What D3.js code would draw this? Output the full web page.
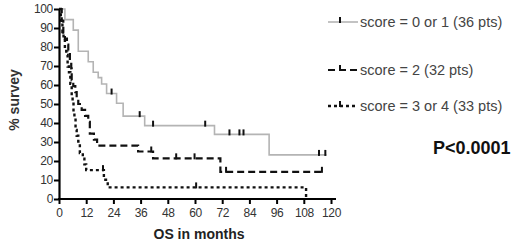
<!DOCTYPE html>
<html>
<head>
<meta charset="utf-8">
<script src="https://cdn.jsdelivr.net/npm/d3@7"></script>
<style>
  body { margin: 0; background: #fff; }
  svg { display: block; font-family: "Liberation Sans", Arial, sans-serif; }
</style>
</head>
<body>
<div id="chart"></div>
<script>
// score = 0 or 1 (36 pts)
const lowTimes = [0, 2.6, 6.3, 8.5, 12.9, 15.1, 17.3, 18.8, 21, 25.4, 28.3, 37.8, 68.6, 92.7, 118];
const lowSurv = [100, 94.4, 88.9, 77.8, 72.2, 66.7, 63.9, 60.5, 55.5, 50.4, 43.6, 38.6, 34, 23.2, 23.2];
const lowCensor = [23.2, 35.6, 41.5, 64.5, 75.2, 79.6, 81.4, 114.7, 117.5];

// score = 2 (32 pts)
const midTimes = [0, 1.2, 1.9, 2.6, 3.5, 4.1, 4.8, 5.4, 5.6, 6.3, 7.2, 7.8, 8.5, 10, 11.5, 12.9, 13.6, 15.4, 16.8, 34.9, 41.5, 71.2, 116.5];
const midSurv = [100, 93.8, 87.5, 84.4, 81.3, 78.1, 71.9, 68.8, 62.5, 59.4, 56.3, 53.1, 50, 46.9, 43.8, 40.6, 34.4, 31.3, 28.1, 25, 21.4, 14.3, 14.3];
const midCensor = [40.7, 51.7, 59.8, 73.7, 116];

// score = 3 or 4 (33 pts)
const highTimes = [0, 0.8, 1.5, 2, 2.6, 3.2, 3.8, 4.4, 5, 5.6, 6, 6.4, 6.8, 7.3, 7.8, 8.5, 9.2, 10.5, 11.2, 12, 19.8, 21.5, 109, 109];
const highSurv = [100, 93.9, 87.9, 84.8, 78.8, 75.8, 69.7, 66.7, 60.6, 54.5, 51.5, 45.5, 42.4, 36.4, 33.3, 30.3, 24.2, 21.2, 18.2, 15.2, 10.1, 6.1, 0, 0];
const highCensor = [19.4, 60.5];

const xTicks = [0, 12, 24, 36, 48, 60, 72, 84, 96, 108, 120];
const yTicks = [0, 10, 20, 30, 40, 50, 60, 70, 80, 90, 100];
const legendLabels = ["score = 0 or 1 (36 pts)", "score = 2 (32 pts)", "score = 3 or 4 (33 pts)"];

const width = 520, height = 247;
const svg = d3.select("#chart").append("svg")
    .attr("width", width)
    .attr("height", height);

const xScale = d3.scaleLinear().domain([0, 120]).range([59, 331]);
const yScale = d3.scaleLinear().domain([0, 100]).range([199, 9]);

// survival value at time t (step function)
function survAt(times, surv, t) {
    let v = surv[0];
    for (let i = 0; i < times.length; i++) {
        if (times[i] <= t) v = surv[i];
    }
    return v;
}

const series = [
    { times: lowTimes, surv: lowSurv, censor: lowCensor, color: "#b4b4b4", dash: null, sw: 1.6 },
    { times: midTimes, surv: midSurv, censor: midCensor, color: "#111", dash: "7,4", sw: 2.2 },
    { times: highTimes, surv: highSurv, censor: highCensor, color: "#111", dash: "3,3", sw: 2.4 }
];

const line = d3.line()
    .x(d => xScale(d[0]))
    .y(d => yScale(d[1]))
    .curve(d3.curveStepAfter);

series.forEach(s => {
    const pts = s.times.map((t, i) => [t, s.surv[i]]);
    svg.append("path")
        .attr("d", line(pts))
        .attr("fill", "none")
        .attr("stroke", s.color)
        .attr("stroke-width", s.sw)
        .attr("stroke-dasharray", s.dash);

    svg.selectAll(null)
        .data(s.censor)
        .enter().append("line")
        .attr("x1", d => xScale(d))
        .attr("x2", d => xScale(d))
        .attr("y1", d => yScale(survAt(s.times, s.surv, d)) - 5)
        .attr("y2", d => yScale(survAt(s.times, s.surv, d)) + 1)
        .attr("stroke", "#111")
        .attr("stroke-width", 2);
});

// axes
const xAxis = svg.append("g")
    .attr("transform", `translate(0, ${yScale(0)})`)
    .call(d3.axisBottom(xScale).tickValues(xTicks).tickSize(5).tickSizeOuter(0));
const yAxis = svg.append("g")
    .attr("transform", `translate(${xScale(0)}, 0)`)
    .call(d3.axisLeft(yScale).tickValues(yTicks).tickSize(5).tickSizeOuter(0));

svg.selectAll(".domain")
    .style("stroke", "#000")
    .style("stroke-width", "2.2");
xAxis.select(".domain").attr("d", `M${xScale(0) - 1},0H336`);
svg.selectAll(".tick line")
    .style("stroke", "#000")
    .style("stroke-width", "2");
svg.selectAll(".tick text")
    .style("font-size", "12px")
    .style("fill", "#333")
    .style("font-family", "Liberation Sans, Arial, sans-serif");
xAxis.selectAll(".tick text").attr("dy", "0.85em").style("letter-spacing", "-0.4px");
yAxis.selectAll(".tick text").attr("x", -6).style("letter-spacing", "-0.3px");

// axis titles
svg.append("text")
    .attr("transform", "rotate(-90)")
    .attr("x", -100)
    .attr("y", 19)
    .style("text-anchor", "middle")
    .style("font-size", "14px")
    .style("font-weight", "bold")
    .style("fill", "#333")
    .text("% survey");

svg.append("text")
    .attr("x", 199)
    .attr("y", 239)
    .style("text-anchor", "middle")
    .style("font-size", "14px")
    .style("font-weight", "bold")
    .style("fill", "#222")
    .text("OS in months");

// legend
const legendY = [22, 70, 106];
series.forEach((s, i) => {
    svg.append("line")
        .attr("x1", 328).attr("x2", 358)
        .attr("y1", legendY[i]).attr("y2", legendY[i])
        .attr("stroke", s.color)
        .attr("stroke-width", s.sw)
        .attr("stroke-dasharray", s.dash);
    svg.append("line")
        .attr("x1", 340).attr("x2", 340)
        .attr("y1", legendY[i] - 5).attr("y2", legendY[i] + 1)
        .attr("stroke", "#111")
        .attr("stroke-width", 2);
    svg.append("text")
        .attr("x", 360)
        .attr("y", legendY[i])
        .attr("dy", "0.35em")
        .style("font-size", "14.5px")
        .style("fill", "#444")
        .text(legendLabels[i]);
});

svg.append("text")
    .attr("x", 433)
    .attr("y", 154)
    .style("font-size", "18px")
    .style("font-weight", "bold")
    .style("fill", "#111")
    .text("P<0.0001");
</script>
</body>
</html>
